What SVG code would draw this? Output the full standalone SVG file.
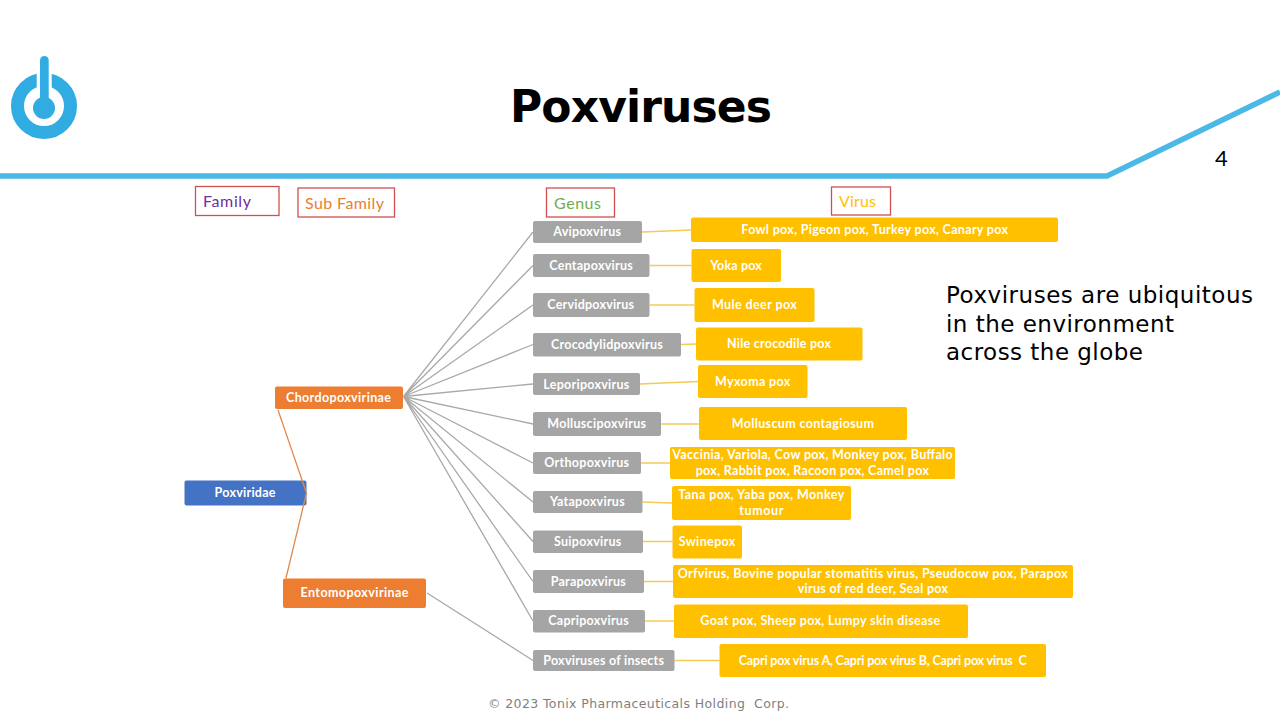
<svg xmlns="http://www.w3.org/2000/svg" width="1280" height="720" viewBox="0 0 1280 720">
<style>
.n{font-family:"Lato","Open Sans",sans-serif;font-weight:700;font-size:12.5px;fill:#fff}
.g{fill:#a5a5a5}.y{fill:#ffc000}.o{fill:#ed7d31}.b{fill:#4472c4}
.lb{fill:#fff;stroke:#d0504f;stroke-width:1.3}
.lt{font-family:"Lato","Open Sans",sans-serif;font-size:16px}
.cg{stroke:#a9a9a9;stroke-width:1.3;fill:none}
.cy{stroke:#f4cb55;stroke-width:1.5;fill:none}
.co{stroke:#e08a4e;stroke-width:1.3;fill:none}
.body{font-family:"DejaVu Sans",Verdana,sans-serif;font-size:23px;fill:#000}
</style>
<rect width="1280" height="720" fill="#fff"/>
<g id="header">
<path d="M0 176H1107L1280 92" fill="none" stroke="#4bb8e6" stroke-width="5.5"/>
<g id="logo">
<circle cx="44" cy="106" r="26.500" fill="none" stroke="#30ace2" stroke-width="13"/>
<rect x="36.700" y="70" width="15" height="30" fill="#fff"/>
<rect x="40" y="56" width="8.700" height="50" rx="4.300" fill="#30ace2"/>
<circle cx="44" cy="108" r="11" fill="#30ace2"/>
</g>
<text x="510" y="122" textLength="262" font-family="DejaVu Sans,Verdana,sans-serif" font-weight="700" font-size="44" fill="#000">Poxviruses</text>
<text x="1215" y="166" font-family="Lato,Open Sans,sans-serif" font-size="22" fill="#000">4</text>
</g>
<g id="label-family"><rect class="lb" x="195.500" y="186.500" width="83.500" height="29"/><text class="lt" x="203" y="206.500" textLength="48" fill="#7030a0">Family</text></g>
<g id="label-subfamily"><rect class="lb" x="298" y="188" width="96.500" height="29"/><text class="lt" x="305" y="208.500" textLength="79" fill="#ed7d31">Sub Family</text></g>
<g id="label-genus"><rect class="lb" x="546.500" y="188" width="68" height="29"/><text class="lt" x="554" y="208.500" textLength="47" fill="#70ad47">Genus</text></g>
<g id="label-virus"><rect class="lb" x="831.500" y="187" width="59" height="28"/><text class="lt" x="839" y="206.500" textLength="37" fill="#ffc000">Virus</text></g>
<g id="poxviridae"><rect class="b" x="184.500" y="480.500" width="122" height="25" rx="2"/><text class="n" x="214.500" y="497" textLength="61">Poxviridae</text></g>
<g id="chordopoxvirinae"><rect class="o" x="275" y="386.500" width="128" height="22.500" rx="2"/><text class="n" x="286" y="402" textLength="105">Chordopoxvirinae</text></g>
<g id="entomopoxvirinae"><rect class="o" x="283" y="578.500" width="143" height="29.500" rx="2"/><text class="n" x="300.500" y="597" textLength="108">Entomopoxvirinae</text></g>
<g id="avipoxvirus"><rect class="g" x="533" y="221" width="109" height="22" rx="2"/><text class="n" x="553.300" y="236" textLength="67.700">Avipoxvirus</text></g>
<g id="centapoxvirus"><rect class="g" x="533" y="254" width="116.500" height="23" rx="2"/><text class="n" x="549.300" y="269.500" textLength="83.400">Centapoxvirus</text></g>
<g id="cervidpoxvirus"><rect class="g" x="533" y="293" width="116.500" height="24" rx="2"/><text class="n" x="547.300" y="309" textLength="86.700">Cervidpoxvirus</text></g>
<g id="crocodylidpoxvirus"><rect class="g" x="533" y="333" width="148" height="23.500" rx="2"/><text class="n" x="551" y="348.500" textLength="111.700">Crocodylidpoxvirus</text></g>
<g id="leporipoxvirus"><rect class="g" x="533" y="373" width="107" height="22" rx="2"/><text class="n" x="543.300" y="388.500" textLength="86">Leporipoxvirus</text></g>
<g id="molluscipoxvirus"><rect class="g" x="533" y="412" width="128" height="24" rx="2"/><text class="n" x="547.300" y="428" textLength="98.700">Molluscipoxvirus</text></g>
<g id="orthopoxvirus"><rect class="g" x="533" y="452" width="108" height="22" rx="2"/><text class="n" x="544.300" y="467" textLength="84.700">Orthopoxvirus</text></g>
<g id="yatapoxvirus"><rect class="g" x="533" y="491" width="109.500" height="22" rx="2"/><text class="n" x="550" y="506" textLength="74.700">Yatapoxvirus</text></g>
<g id="suipoxvirus"><rect class="g" x="533" y="530.500" width="110" height="22.500" rx="2"/><text class="n" x="554" y="546" textLength="67.300">Suipoxvirus</text></g>
<g id="parapoxvirus"><rect class="g" x="533" y="570" width="111" height="23" rx="2"/><text class="n" x="550.700" y="585.500" textLength="75">Parapoxvirus</text></g>
<g id="capripoxvirus"><rect class="g" x="533" y="610" width="112" height="22.500" rx="2"/><text class="n" x="548.300" y="625" textLength="80.400">Capripoxvirus</text></g>
<g id="insects"><rect class="g" x="533" y="650" width="141.500" height="21" rx="2"/><text class="n" x="543.300" y="665" textLength="120.700">Poxviruses of insects</text></g>
<g id="v-fowl"><rect class="y" x="691" y="217.500" width="367" height="24.500" rx="2"/><text class="n" x="741.300" y="233.500" textLength="266.700">Fowl pox, Pigeon pox, Turkey pox, Canary pox</text></g>
<g id="v-yoka"><rect class="y" x="691.500" y="249" width="89.500" height="33" rx="2"/><text class="n" x="710.300" y="269.500" textLength="51.400">Yoka pox</text></g>
<g id="v-mule"><rect class="y" x="694.500" y="288" width="120" height="34" rx="2"/><text class="n" x="712" y="309" textLength="84.700">Mule deer pox</text></g>
<g id="v-nile"><rect class="y" x="696" y="327.500" width="166.500" height="33" rx="2"/><text class="n" x="727" y="348" textLength="104">Nile crocodile pox</text></g>
<g id="v-myxoma"><rect class="y" x="698" y="365" width="109.500" height="33" rx="2"/><text class="n" x="715" y="385.500" textLength="75.300">Myxoma pox</text></g>
<g id="v-molluscum"><rect class="y" x="699" y="407" width="208" height="33" rx="2"/><text class="n" x="731.700" y="428" textLength="142.300">Molluscum contagiosum</text></g>
<g id="v-vaccinia"><rect class="y" x="670" y="447" width="285" height="32" rx="2"/><text class="n" x="672.300" y="459" textLength="280.400">Vaccinia, Variola, Cow pox, Monkey pox, Buffalo</text><text class="n" x="695.700" y="475" textLength="233.300">pox, Rabbit pox, Racoon pox, Camel pox</text></g>
<g id="v-tana"><rect class="y" x="672" y="486" width="179" height="34" rx="2"/><text class="n" x="678.300" y="499" textLength="166">Tana pox, Yaba pox, Monkey</text><text class="n" x="739.300" y="514.500" textLength="44">tumour</text></g>
<g id="v-swinepox"><rect class="y" x="672.500" y="525.500" width="69.500" height="33" rx="2"/><text class="n" x="678.700" y="546" textLength="56.700">Swinepox</text></g>
<g id="v-orf"><rect class="y" x="673" y="565" width="400" height="33" rx="2"/><text class="n" x="677.700" y="578" textLength="390">Orfvirus, Bovine popular stomatitis virus, Pseudocow pox, Parapox</text><text class="n" x="797.700" y="593" textLength="150.300">virus of red deer, Seal pox</text></g>
<g id="v-goat"><rect class="y" x="674" y="604.500" width="294" height="33.500" rx="2"/><text class="n" x="700.300" y="625" textLength="240">Goat pox, Sheep pox, Lumpy skin disease</text></g>
<g id="v-capri"><rect class="y" x="719.500" y="644" width="326.500" height="33" rx="2"/><text class="n" x="738.700" y="664.500" textLength="288" xml:space="preserve">Capri pox virus A, Capri pox virus B, Capri pox virus  C</text></g>
<g id="connectors">
<path class="co" d="M278 410L306.500 493L286 578"/>
<path class="cg" d="M403.500 396.500L533 232M403.500 396.500L533 265.500M403.500 396.500L533 305M403.500 396.500L533 344.500M403.500 396.500L533 384M403.500 396.500L533 424M403.500 396.500L533 463M403.500 396.500L533 502M403.500 396.500L533 541.500M403.500 396.500L533 581.500M403.500 396.500L533 621M427 593L533 660.500"/>
<path class="cy" d="M642 232L691 230M649.500 265.500H691.500M649.500 305H694.500M681 344.500L696 344M640 384L698 381.500M661 424H699M641 463H670M642.500 502L672 503M643 541.500H672.500M644 581.500H673M645 621H674M674.500 660.500H719.500"/>
</g>
<g id="note"><text class="body" x="946" y="303" textLength="307">Poxviruses are ubiquitous</text><text class="body" x="946" y="332" textLength="228">in the environment</text><text class="body" x="946" y="360" textLength="197">across the globe</text></g>
<text x="488" y="708" textLength="301" font-family="DejaVu Sans,Verdana,sans-serif" font-size="12.500" fill="#7f7f7f" xml:space="preserve">© 2023 Tonix Pharmaceuticals Holding  Corp.</text>
</svg>
